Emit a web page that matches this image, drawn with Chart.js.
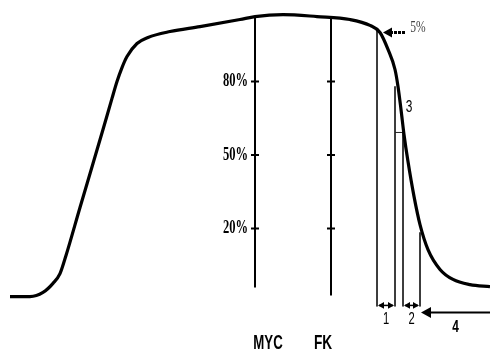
<!DOCTYPE html>
<html><head><meta charset="utf-8">
<script src="https://cdn.jsdelivr.net/npm/chart.js@4"></script>
<style>html,body{margin:0;padding:0;background:#fff}#wrap{width:490px;height:354px}</style>
</head><body><div id="wrap"><canvas id="c"></canvas></div>
<script>
// time axis (arbitrary units) and signal level (%)
const curveX = [2, 6, 8.6, 10.6, 12, 13.2, 16, 18.6, 20.6, 22.4, 23.4, 24.4, 25.4, 27.4, 29.6, 34, 40, 48, 51, 56.6, 63.4, 70, 74, 76, 77.6, 79, 79.6, 80.2, 80.8, 81.6, 82.8, 84, 85.6, 88, 90.6, 94, 98];
const curveY = [-7.8, -7.8, -6.1, -2.4, 1.6, 9.0, 28.6, 46.5, 60.4, 73.1, 80.0, 85.7, 90.2, 95.5, 98, 100.4, 102.4, 105.3, 106.5, 107.3, 106.5, 105.3, 102.9, 100, 93.1, 84.9, 78, 68.6, 58.4, 47.3, 33.1, 21.6, 11.4, 3.3, -0.8, -2.9, -3.7];
const markerNames = ['MYC', 'FK'];
const markerX = [51, 66.2];
const markerTop = [106.5, 106.1];
const markerBottom = [-4.1, -7.3];
const tickValues = [80, 50, 20];
const tickLabels = ['80%', '50%', '20%'];
// phase boundaries: start of 1, end of 1, start of 2, end of 2
const phaseX = [75.4, 79, 80.6, 84];
const phaseTop = [100.8, 78, 59.2, 18.4];
const phaseBottom = -11.8;
const phaseLabels = ['1', '2', '3', '4'];
const dropLabel = '5%';
const dropLevel = 100;

const lineSet = (xs, ys, w, col) => ({
  data: xs.map((x, i) => ({x, y: ys[i]})),
  showLine: true, borderColor: col, borderWidth: w, pointRadius: 0, clip: false, fill: false
});

const datasets = [];
const curve = lineSet(curveX, curveY, 3.2, '#000');
curve.cubicInterpolationMode = 'monotone';
datasets.push(curve);
markerX.forEach((x, i) => datasets.push(lineSet([x, x], [markerTop[i], markerBottom[i]], 2, '#000')));
phaseX.forEach((x, i) => datasets.push(lineSet([x, x], [phaseTop[i], phaseBottom], 1, '#222')));
// small step at label 3
datasets.push(lineSet([phaseX[1], phaseX[2]], [phaseTop[2], phaseTop[2]], 1, '#222'));

function head(ctx, x, y, dir, size) {
  ctx.beginPath();
  ctx.moveTo(x, y);
  ctx.lineTo(x - dir * size, y - size * 0.55);
  ctx.lineTo(x - dir * size, y + size * 0.55);
  ctx.closePath();
  ctx.fill();
}
function text(ctx, s, x, y, font, sx, align, color) {
  ctx.save();
  ctx.font = font;
  ctx.fillStyle = color || '#000';
  ctx.textBaseline = 'middle';
  ctx.textAlign = align;
  ctx.translate(x, y);
  ctx.scale(sx, 1);
  ctx.fillText(s, 0, 0);
  ctx.restore();
}

const deco = {
  id: 'deco',
  afterDatasetsDraw(chart) {
    const ctx = chart.ctx, xs = chart.scales.x, ys = chart.scales.y;
    ctx.save();
    ctx.strokeStyle = '#000'; ctx.fillStyle = '#000';
    // ticks on marker lines
    markerX.forEach(mx => {
      const px = xs.getPixelForValue(mx);
      tickValues.forEach(v => {
        const py = ys.getPixelForValue(v);
        ctx.lineWidth = 2;
        ctx.beginPath(); ctx.moveTo(px - 4, py); ctx.lineTo(px + 4, py); ctx.stroke();
      });
    });
    // tick labels
    const lx = xs.getPixelForValue(markerX[0]) - 7;
    tickValues.forEach((v, i) => text(ctx, tickLabels[i], lx, ys.getPixelForValue(v), 'bold 19px "Liberation Serif"', 0.66, 'right'));
    // marker names
    const ny = 343;
    text(ctx, markerNames[0], xs.getPixelForValue(markerX[0]) + 13, ny, 'bold 21px "Liberation Sans"', 0.63, 'center');
    text(ctx, markerNames[1], xs.getPixelForValue(markerX[1]) - 8, ny, 'bold 21px "Liberation Sans"', 0.65, 'center');
    // phase arrows 1 and 2
    const ay = ys.getPixelForValue(phaseBottom) - 1;
    ctx.lineWidth = 1.5;
    [[0, 1], [2, 3]].forEach(([a, b], k) => {
      const x1 = xs.getPixelForValue(phaseX[a]), x2 = xs.getPixelForValue(phaseX[b]);
      ctx.beginPath(); ctx.moveTo(x1 + 2, ay); ctx.lineTo(x2 - 2, ay); ctx.stroke();
      head(ctx, x1 + 1, ay, -1, 6);
      head(ctx, x2 - 1, ay, 1, 6);
      text(ctx, phaseLabels[k], (x1 + x2) / 2, ay + 14, '16px "Liberation Sans"', 0.7, 'center');
    });
    // phase 4 arrow
    const a4y = ay + 7;
    const x4 = xs.getPixelForValue(phaseX[3]) + 1;
    const xr = xs.getPixelForValue(xs.max);
    ctx.lineWidth = 2;
    ctx.beginPath(); ctx.moveTo(xr, a4y); ctx.lineTo(x4 + 6, a4y); ctx.stroke();
    head(ctx, x4, a4y, -1, 10);
    text(ctx, phaseLabels[3], (x4 + xr) / 2, a4y + 15, 'bold 17px "Liberation Sans"', 0.7, 'center');
    // label 3
    text(ctx, phaseLabels[2], xs.getPixelForValue(phaseX[2]) + 6, ys.getPixelForValue(phaseTop[1]) + 21, '17px "Liberation Sans"', 0.7, 'center');
    // 5% arrow
    const dy = ys.getPixelForValue(dropLevel);
    const dx0 = xs.getPixelForValue(phaseX[0]) + 6;
    ctx.lineWidth = 3;
    ctx.setLineDash([3, 1]);
    ctx.beginPath(); ctx.moveTo(dx0 + 22, dy); ctx.lineTo(dx0 + 8, dy); ctx.stroke();
    ctx.setLineDash([]);
    head(ctx, dx0, dy, -1, 9);
    text(ctx, dropLabel, dx0 + 35, dy - 5, '17px "Liberation Serif"', 0.68, 'center', '#444');
    ctx.restore();
  }
};

new Chart(document.getElementById('c'), {
  type: 'scatter',
  data: {datasets},
  options: {
    responsive: true, maintainAspectRatio: false, animation: false,
    layout: {padding: {left: 0, right: 0, top: 8, bottom: 3}},
    plugins: {legend: {display: false}, tooltip: {enabled: false}},
    scales: {
      x: {type: 'linear', min: 0, max: 98, display: false},
      y: {type: 'linear', min: -30, max: 110, display: false}
    }
  },
  plugins: [deco]
});
</script>
</body></html>
